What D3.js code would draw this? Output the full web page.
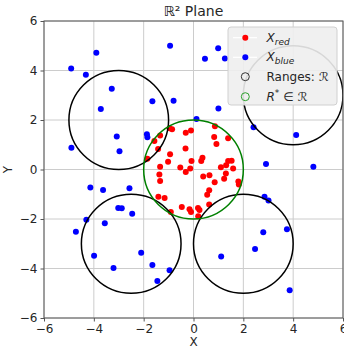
<!DOCTYPE html>
<html><head><meta charset="utf-8">
<script src="https://cdn.jsdelivr.net/npm/d3@7"></script>
<style>body{margin:0;background:#fff;font-family:"DejaVu Sans",sans-serif;}</style>
</head><body><div id="chart"></div>
<script>
const redX = [-0.96,-0.86,-0.31,-0.1,0.86,0.83,1.39,0.92,-1.34,-1.57,-1.42,-0.32,-0.94,-1.85,-1.02,-0.08,0.36,0.31,-1.34,-0.53,-0.13,-0.31,-1.37,-1.34,1.1,1.31,1.39,1.53,1.59,1.3,1.23,1.8,1.82,0.39,0.64,0.85,0.63,0.55,-1.41,-1.16,0.63,-0.47,-0.16,-0.1,0.18,0.24,-0.91,0.19];
const redY = [1.67,1.63,1.48,1.58,1.75,1.31,1.26,1.03,1.37,1.15,0.83,0.85,0.62,0.43,0.31,0.34,0.47,0.34,0.11,0.08,0.04,-0.1,-0.2,-0.46,0.09,0.17,0.34,0.35,0.04,-0.16,-0.37,-0.48,-0.61,-0.28,-0.23,-0.52,-0.84,-1.02,-1.1,-1.15,-1.41,-1.52,-1.61,-1.72,-1.56,-1.64,-1.72,-1.89];
const blueX = [-0.94,-3.9,-4.91,-4.32,-3.28,-1.65,-0.8,-3.72,-3.08,-1.87,-1.85,-4.9,-2.97,0.99,0.46,1.26,1.0,0.12,2.41,4.12,2.91,4.81,-4.14,-3.63,-2.57,-3.02,-2.88,-2.46,-4.3,-3.56,-4.72,-2.1,-3.99,-1.65,-0.96,-3.21,-1.45,2.85,3.01,2.8,3.75,2.47,1.11,3.86];
const blueY = [5.0,4.72,4.08,3.83,3.26,2.76,2.78,2.44,1.33,1.42,1.3,0.88,0.74,4.9,4.47,4.48,2.46,2.04,1.71,1.39,0.22,0.11,-0.73,-0.83,-0.76,-1.56,-1.57,-1.79,-2.03,-2.17,-2.52,-3.36,-3.48,-3.86,-4.07,-3.98,-4.5,-1.1,-1.25,-2.54,-2.41,-3.21,-3.52,-4.88];
const rangeCX = [-3, 4, -2.5, 2];
const rangeCY = [2, 3, -3, -3];
const rangeR = [2, 2, 2, 2];
const bestCX = [0], bestCY = [0], bestR = [2];
const xTicks = [-6,-4,-2,0,2,4,6];
const yTicks = [-6,-4,-2,0,2,4,6];

const W = 344, H = 352;
const m = {l:44, r:343, t:21, b:318};
const svg = d3.select("#chart").append("svg").attr("width", W).attr("height", H);
const x = d3.scaleLinear().domain([-6,6]).range([m.l, m.r]);
const y = d3.scaleLinear().domain([-6,6]).range([m.b, m.t]);

svg.append("defs").append("clipPath").attr("id","clip").append("rect")
  .attr("x", m.l).attr("y", m.t).attr("width", m.r-m.l).attr("height", m.b-m.t);

// grid
const g = svg.append("g");
g.selectAll(".gx").data(xTicks).join("line").attr("x1", d=>x(d)).attr("x2", d=>x(d))
  .attr("y1", m.t).attr("y2", m.b).attr("stroke", "#cccccc").attr("stroke-width", 1);
g.selectAll(".gy").data(yTicks).join("line").attr("y1", d=>y(d)).attr("y2", d=>y(d))
  .attr("x1", m.l).attr("x2", m.r).attr("stroke", "#cccccc").attr("stroke-width", 1);

const plot = svg.append("g").attr("clip-path", "url(#clip)");
plot.selectAll(".b").data(blueX).join("circle").attr("cx", d=>x(d)).attr("cy", (d,i)=>y(blueY[i]))
  .attr("r", 3).attr("fill", "#0000ff");
plot.selectAll(".r").data(redX).join("circle").attr("cx", d=>x(d)).attr("cy", (d,i)=>y(redY[i]))
  .attr("r", 3).attr("fill", "#ff0000");
const k = (x(1)-x(0));
plot.selectAll(".rg").data(rangeCX).join("ellipse").attr("cx", d=>x(d)).attr("cy", (d,i)=>y(rangeCY[i]))
  .attr("rx", (d,i)=>x(rangeR[i])-x(0)).attr("ry", (d,i)=>y(0)-y(rangeR[i]))
  .attr("fill", "none").attr("stroke", "#000").attr("stroke-width", 1.5);
plot.selectAll(".bg").data(bestCX).join("ellipse").attr("cx", d=>x(d)).attr("cy", (d,i)=>y(bestCY[i]))
  .attr("rx", (d,i)=>x(bestR[i])-x(0)).attr("ry", (d,i)=>y(0)-y(bestR[i]))
  .attr("fill", "none").attr("stroke", "#008000").attr("stroke-width", 1.5);

// axes
const xa = svg.append("g").attr("transform", `translate(0,${m.b})`)
  .call(d3.axisBottom(x).tickValues(xTicks).tickSize(3.5).tickPadding(3).tickFormat(d=>d3.format("")(d).replace("-","\u2212")));
const ya = svg.append("g").attr("transform", `translate(${m.l},0)`)
  .call(d3.axisLeft(y).tickValues(yTicks).tickSize(3.5).tickPadding(3).tickFormat(d=>d3.format("")(d).replace("-","\u2212")));
[xa, ya].forEach(a => {
  a.select(".domain").remove();
  a.selectAll("text").attr("font-family", "DejaVu Sans").attr("font-size", 12).attr("fill", "#262626");
  a.selectAll("line").attr("stroke", "#555");
});
svg.append("rect").attr("x", m.l).attr("y", m.t).attr("width", m.r-m.l).attr("height", m.b-m.t)
  .attr("fill", "none").attr("stroke", "#555").attr("stroke-width", 1);

// labels
svg.append("text").attr("x", (m.l+m.r)/2).attr("y", 346).attr("text-anchor", "middle")
  .attr("font-size", 12).attr("fill", "#262626").text("X");
svg.append("text").attr("transform", `translate(12,${(m.t+m.b)/2}) rotate(-90)`).attr("text-anchor", "middle")
  .attr("font-size", 12).attr("fill", "#262626").text("Y");
svg.append("text").attr("x", (m.l+m.r)/2).attr("y", 16).attr("text-anchor", "middle")
  .attr("font-size", 14).attr("fill", "#262626").text("\u211D\u00B2 Plane");

// legend
const lg = svg.append("g");
lg.append("rect").attr("x", 228).attr("y", 27).attr("width", 109).attr("height", 78).attr("rx", 3)
  .attr("fill", "#eeeeee").attr("fill-opacity", 0.9).attr("stroke", "#d0d0d0");
const rows = [37.7, 57.3, 76.7, 96.7];
const hx = 245.3, tx = 266.5;
[0,1].forEach(i => {
  lg.append("line").attr("x1", 233).attr("x2", 257).attr("y1", rows[i]).attr("y2", rows[i]).attr("stroke", "#ffffff").attr("stroke-width", 1.2);
  lg.append("circle").attr("cx", hx).attr("cy", rows[i]).attr("r", 3).attr("fill", i===0 ? "#ff0000" : "#0000ff");
});
lg.append("circle").attr("cx", hx).attr("cy", rows[2]).attr("r", 4).attr("fill", "none").attr("stroke", "#333").attr("stroke-width", 1);
lg.append("circle").attr("cx", hx).attr("cy", rows[3]).attr("r", 4).attr("fill", "none").attr("stroke", "#2ca02c").attr("stroke-width", 1);
const t1 = lg.append("text").attr("x", tx).attr("y", rows[0]+4).attr("font-size", 12).attr("fill", "#262626");
t1.append("tspan").attr("font-style", "italic").text("X");
t1.append("tspan").attr("font-style", "italic").attr("font-size", 9).attr("dy", 3).text("red");
const t2 = lg.append("text").attr("x", tx).attr("y", rows[1]+4).attr("font-size", 12).attr("fill", "#262626");
t2.append("tspan").attr("font-style", "italic").text("X");
t2.append("tspan").attr("font-style", "italic").attr("font-size", 9).attr("dy", 3).text("blue");
lg.append("text").attr("x", tx).attr("y", rows[2]+4).attr("font-size", 12).attr("fill", "#262626").text("Ranges: \u211B");
const t4 = lg.append("text").attr("x", tx).attr("y", rows[3]+4).attr("font-size", 12).attr("fill", "#262626");
t4.append("tspan").attr("font-style", "italic").text("R");
t4.append("tspan").attr("font-size", 9).attr("dy", -5).text("*");
t4.append("tspan").attr("dy", 5).text(" \u2208 \u211B");
</script></body></html>
